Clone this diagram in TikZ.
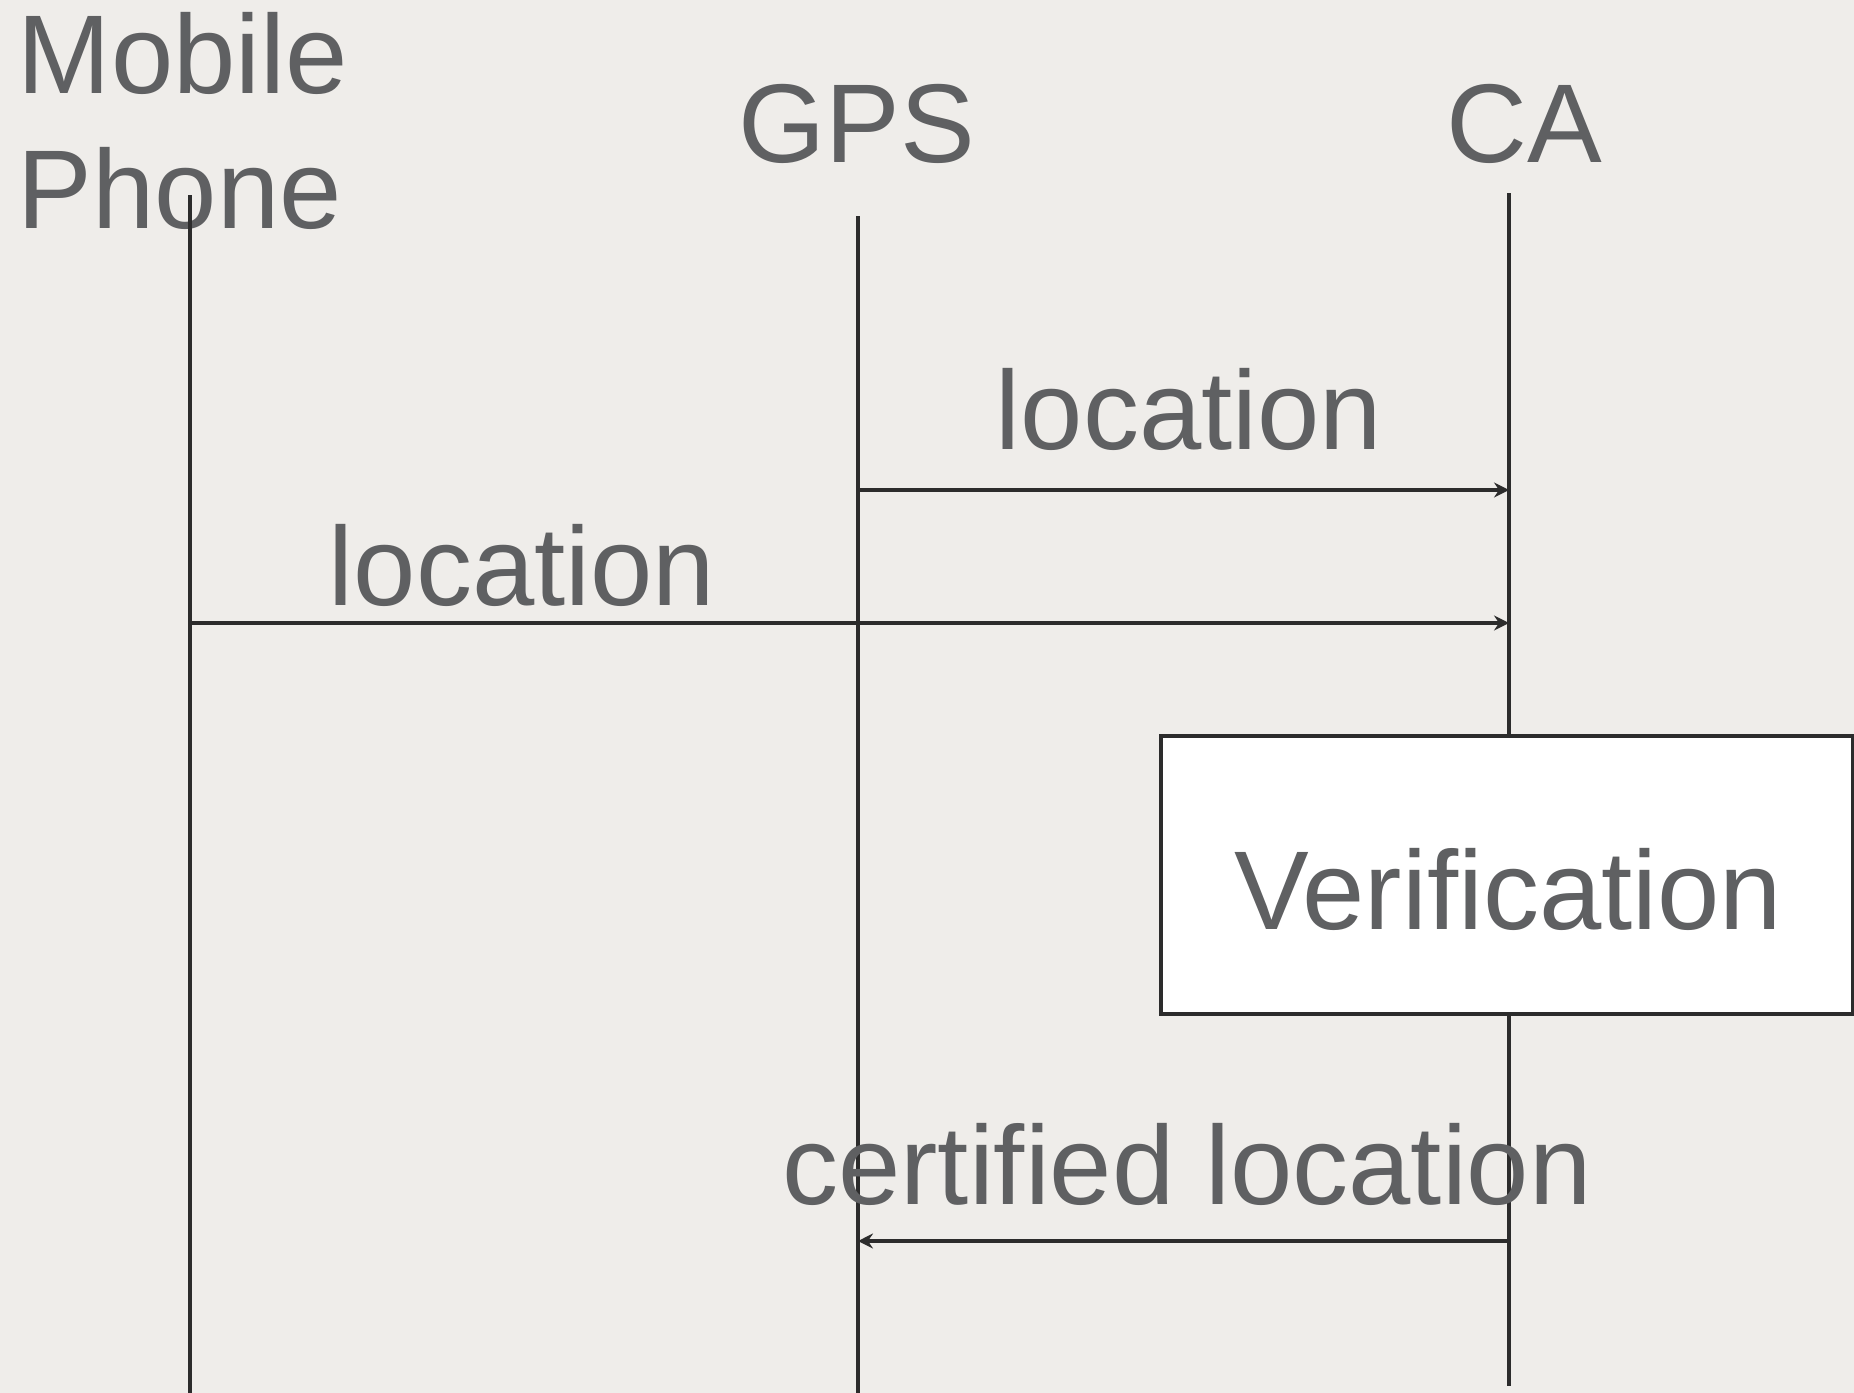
\documentclass[tikz,border=0pt]{standalone}
\usepackage{fontspec}
\setmainfont{Liberation Sans}
\usetikzlibrary{arrows.meta}
\definecolor{paper}{HTML}{EFEDEA}
\definecolor{ink}{HTML}{2C2C2C}
\definecolor{labelgray}{HTML}{5F6062}
\begin{document}
\begin{tikzpicture}[x=0.5pt,y=-0.5pt,
  lbl/.style={inner sep=0pt,outer sep=0pt,text=labelgray,font=\fontsize{56}{67}\selectfont},
  lifeline/.style={draw=ink,line width=1.6pt},
  msg/.style={draw=ink,line width=1.6pt,-{Stealth[length=7.5pt,width=7.5pt,inset=2.5pt]}},
  procbox/.style={draw=ink,line width=2pt,fill=white}]
  % page
  \fill[paper] (0,0) rectangle (1854,1393);
  \useasboundingbox (0,0) rectangle (1854,1393);

  % participant labels
  \node[lbl,anchor=base west] (mobile) at (18,93) {Mobile};
  \node[lbl,anchor=base west] (phone) at (18,228) {Phone};
  \node[lbl,anchor=base] (gps) at (857,162) {GPS};
  \node[lbl,anchor=base] (ca) at (1524,162) {CA};

  % lifeline ends
  \coordinate (mtop) at (190,195);
  \coordinate (mbot) at (190,1393);
  \coordinate (gtop) at (858,216);
  \coordinate (gbot) at (858,1393);
  \coordinate (ctop) at (1509,193);
  \coordinate (cbot) at (1509,1386);

  \draw[lifeline] (mtop) -- (mbot);
  \draw[lifeline] (gtop) -- (gbot);
  \draw[lifeline] (ctop) -- (cbot);

  % message endpoints on the lifelines
  \coordinate (g1) at (858,490);
  \coordinate (c1) at (1509,490);
  \coordinate (m2) at (190,623);
  \coordinate (c2) at (1509,623);
  \coordinate (c3) at (1509,1241);
  \coordinate (g3) at (858,1241);

  \draw[msg] (g1) -- (c1);
  \draw[msg] (m2) -- (c2);
  \draw[msg] (c3) -- (g3);

  % message labels
  \node[lbl,anchor=base] (loc1) at (1189,449) {location};
  \node[lbl,anchor=base] (loc2) at (522,605) {location};
  \node[lbl,anchor=base] (cert) at (1187,1204) {certified location};

  % verification step on the CA lifeline
  \node[procbox,minimum width=692pt*0.5,minimum height=278pt*0.5,inner sep=0pt,anchor=north west] (verif) at (1159,734) {};
  \node[lbl,anchor=base] (veriftxt) at (1508,929) {Verification};
\end{tikzpicture}
\end{document}
